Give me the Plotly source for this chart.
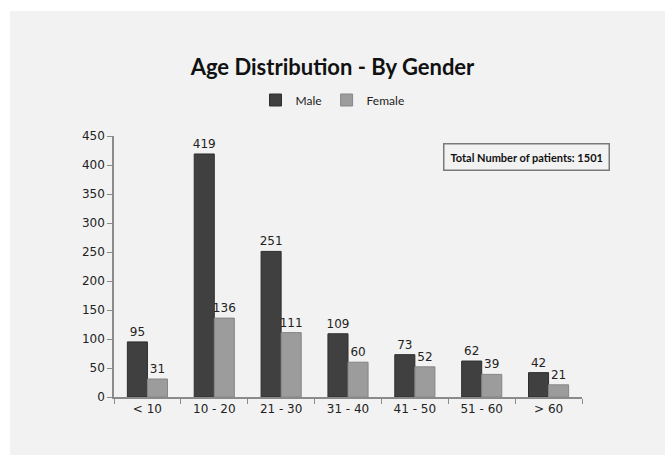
import plotly.graph_objects as go

categories = ["< 10", "10 - 20", "21 - 30", "31 - 40", "41 - 50", "51 - 60", "> 60"]
male = [95, 419, 251, 109, 73, 62, 42]
female = [31, 136, 111, 60, 52, 39, 21]
y_ticks = [0, 50, 100, 150, 200, 250, 300, 350, 400, 450]

fig = go.Figure()
fig.add_trace(go.Bar(
    x=categories, y=male, name="Male",
    marker=dict(color="#404040", line=dict(color="#2e2e2e", width=1)),
    text=[str(v) for v in male], textposition="outside", cliponaxis=False,
    constraintext="none",
    textfont=dict(family="DejaVu Sans", size=12, color="#222222"),
))
fig.add_trace(go.Bar(
    x=categories, y=female, name="Female",
    marker=dict(color="#9c9c9c", line=dict(color="#858585", width=1)),
    text=[str(v) for v in female], textposition="outside", cliponaxis=False,
    constraintext="none",
    textfont=dict(family="DejaVu Sans", size=12, color="#222222"),
))

L, R, T, B = 114, 83, 136, 58
PW, PH = 665 - L - R, 455 - T - B

def px_x(p):
    return (p - L) / PW

def px_y(p):
    return (455 - B - p) / PH

fig.update_layout(
    width=665, height=455,
    margin=dict(l=L, r=R, t=T, b=B),
    paper_bgcolor="white",
    plot_bgcolor="rgba(0,0,0,0)",
    barmode="group", bargap=0.4, bargroupgap=0.0,
    uniformtext=dict(mode=False),
    title=dict(text="<b>Age Distribution - By Gender</b>",
               font=dict(family="Lato", size=22, color="#111111"),
               x=0.5, xanchor="center", xref="container",
               y=1 - 67 / 455, yanchor="middle", yref="container"),
    legend=dict(orientation="h", x=0.5, xanchor="center", xref="container",
                y=1 - 100 / 455, yanchor="middle", yref="container",
                font=dict(family="Lato", size=12, color="#222222"),
                bgcolor="rgba(0,0,0,0)", itemwidth=30, traceorder="normal"),
    xaxis=dict(showline=True, linecolor="#8a8a8a", linewidth=1.5,
               ticks="outside", ticklen=5, tickcolor="#8a8a8a",
               tickson="boundaries",
               tickfont=dict(family="DejaVu Sans", size=12, color="#222222"),
               showgrid=False),
    yaxis=dict(range=[0, 450], tickvals=y_ticks, showline=True,
               linecolor="#8a8a8a", linewidth=1.5,
               ticks="outside", ticklen=5, tickcolor="#8a8a8a",
               tickfont=dict(family="DejaVu Sans", size=12, color="#222222"),
               showgrid=False, zeroline=False),
    shapes=[dict(type="rect", xref="paper", yref="paper",
                 x0=px_x(10), x1=px_x(666), y0=px_y(456), y1=px_y(11),
                 fillcolor="#f2f2f2", line=dict(width=0), layer="below")],
    annotations=[dict(text="<b>Total Number of patients: 1501</b>",
                      xref="paper", yref="paper",
                      x=px_x(526), y=px_y(157), xanchor="center", yanchor="middle",
                      showarrow=False,
                      font=dict(family="Lato", size=11, color="#111111"),
                      bordercolor="#7a7a7a", borderwidth=1.5, borderpad=6,
                      bgcolor="rgba(0,0,0,0)")],
)

fig.write_html("out.html")
